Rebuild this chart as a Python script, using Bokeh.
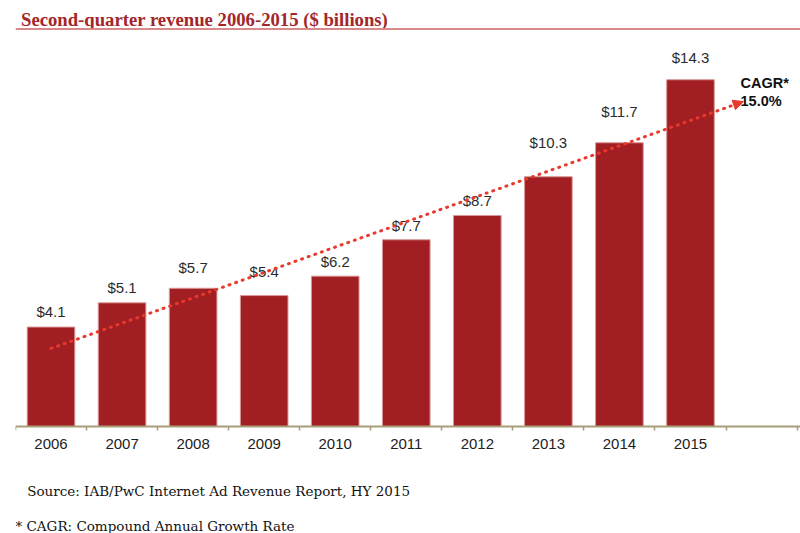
import numpy as np
from bokeh.plotting import figure
from bokeh.models import (Range1d, LinearAxis, FixedTicker, Span, Label, Arrow,
                          NormalHead, ColumnDataSource)
from bokeh.core.properties import value
from bokeh.embed import file_html
from bokeh.resources import INLINE

# ---------------- data ----------------
years = ["2006", "2007", "2008", "2009", "2010", "2011", "2012", "2013", "2014", "2015"]
revenue = [4.1, 5.1, 5.7, 5.4, 6.2, 7.7, 8.7, 10.3, 11.7, 14.3]
value_labels = ["$%.1f" % v for v in revenue]
cagr_lines = ["CAGR*", "15.0%"]
title_text = "Second-quarter revenue 2006-2015 ($ billions)"
source_text = "Source: IAB/PwC Internet Ad Revenue Report, HY 2015"
footnote_text = "* CAGR: Compound Annual Growth Rate"

# ---------------- layout helpers (pixel geometry of the reference) ----------------
W, H = 800, 533
FRAME_LEFT = 15          # x of frame left edge
SLOT = 71.05             # px per category
YPX = 24.25              # px per $1bn
BASE = 426               # y of the baseline (from top)
X0 = -0.5
X1 = X0 + (W - FRAME_LEFT) / SLOT


def to_x(ix):
    return X0 + (ix - FRAME_LEFT) / SLOT


def to_y(iy):
    return (BASE - iy) / YPX


# label offsets above bar tops (px), as placed in the reference
label_gap_px = [15.5, 15.4, 21, 24, 14.3, 14, 15.4, 34.4, 31, 22]

idx = list(range(len(years)))
src = ColumnDataSource(dict(x=idx, top=revenue, label=value_labels,
                            yoff=[-g for g in label_gap_px]))

p = figure(width=W, height=H, x_range=Range1d(X0, X1),
           y_range=Range1d(to_y(H), to_y(0)),
           x_axis_type=None, y_axis_type=None,
           toolbar_location=None, output_backend="svg",
           min_border_left=FRAME_LEFT, min_border_right=0,
           min_border_top=0, min_border_bottom=0,
           outline_line_color=None, background_fill_color="white")

# bars
p.vbar(x="x", top="top", bottom=0, width=0.67, source=src,
       fill_color="#A11F22", line_color="#D99696", line_width=1)

# value labels
p.text(x="x", y="top", text="label", source=src, y_offset="yoff",
       text_align="center", text_baseline="middle",
       text_font=value("Liberation Sans"), text_font_size="15px",
       text_color="#2b2b2b")

# axis with boundary ticks
axis_color = "#A89E7A"
bound_ticks = [i - 0.5 for i in range(len(years) + 2)]
ax = LinearAxis(ticker=FixedTicker(ticks=bound_ticks), fixed_location=0,
                major_label_overrides={t: "" for t in bound_ticks},
                axis_line_color=axis_color, axis_line_width=2,
                major_tick_line_color=axis_color, major_tick_line_width=1.5,
                major_tick_in=0, major_tick_out=4,
                minor_tick_line_color=None)
p.add_layout(ax, "below")

# year labels axis
yax = LinearAxis(ticker=FixedTicker(ticks=idx), fixed_location=0,
                 major_label_overrides={i: y for i, y in zip(idx, years)},
                 axis_line_color=None, major_tick_line_color=None,
                 minor_tick_line_color=None, major_tick_in=0, major_tick_out=0,
                 major_label_standoff=12,
                 major_label_text_font="Liberation Sans",
                 major_label_text_font_size="15px",
                 major_label_text_color="#222222")
p.add_layout(yax, "below")

# trend line (least squares fit of the revenue values)
slope, intercept = np.polyfit(idx, revenue, 1)
x_end = to_x(742.7)
trend_color = "#E8392C"
p.add_layout(Arrow(x_start=0, y_start=intercept,
                   x_end=x_end, y_end=intercept + slope * x_end,
                   line_color=trend_color, line_width=3, line_dash="1 6",
                   line_cap="round",
                   end=NormalHead(size=10, fill_color=trend_color,
                                  line_color=trend_color, line_width=1)))

# CAGR annotation
for txt, iy in zip(cagr_lines, [82.5, 100.5]):
    p.add_layout(Label(x=to_x(740), y=to_y(iy), text=txt,
                       text_font="Liberation Sans", text_font_style="bold",
                       text_font_size="14.5px", text_color="#111111",
                       text_baseline="alphabetic"))

# title and rule
p.add_layout(Label(x=to_x(20.5), y=to_y(18.5), text=title_text,
                   text_font="Liberation Serif", text_font_style="bold",
                   text_font_size="18.7px", text_color="#A3262A",
                   text_baseline="alphabetic"))
p.add_layout(Span(location=to_y(28.5), dimension="width",
                  line_color="#D88A8A", line_width=2))

# footnotes
p.add_layout(Label(x=to_x(26.7), y=to_y(490.7), text=source_text,
                   text_font="DejaVu Serif", text_font_size="13.5px",
                   text_color="#111111", text_baseline="alphabetic"))
p.add_layout(Label(x=to_x(15), y=to_y(525), text=footnote_text,
                   text_font="DejaVu Serif", text_font_size="13.5px",
                   text_color="#111111", text_baseline="alphabetic"))

open("out.html", "w").write(file_html(p, INLINE))
